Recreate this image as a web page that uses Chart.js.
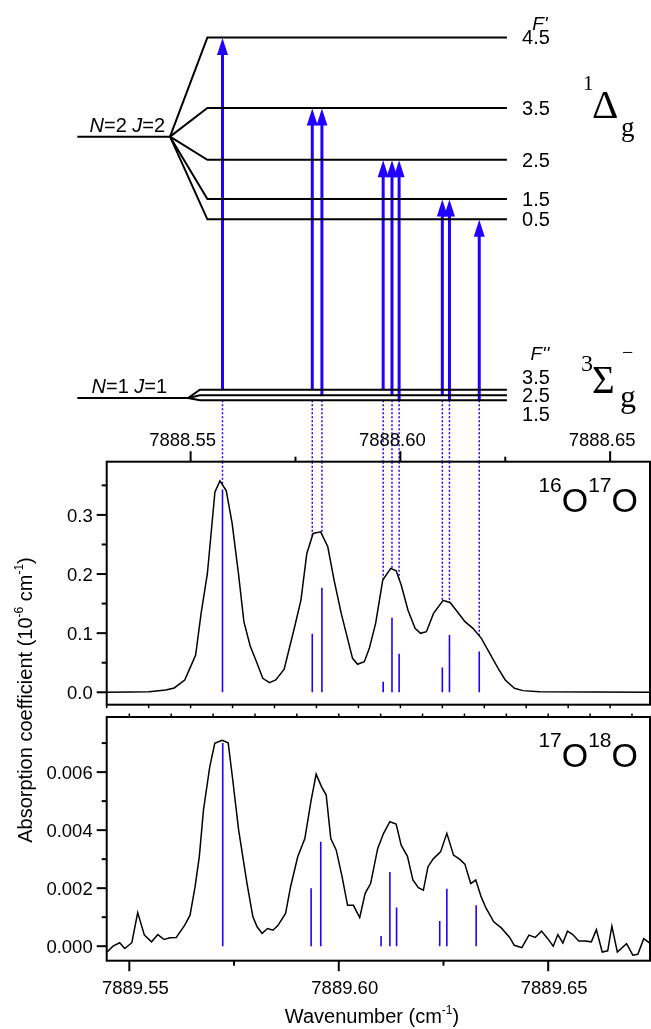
<!DOCTYPE html>
<html>
<head>
  <meta charset="utf-8">
  <title>O2 a-X hyperfine structure</title>
  <script src="https://cdn.jsdelivr.net/npm/chart.js"></script>
  <style>
    body { margin: 0; background: #fff; }
    #wrap { position: relative; width: 651px; height: 1029px; }
    #wrap canvas { position: absolute; left: 0; top: 0; }
  </style>
</head>
<body>
  <div id="wrap">
    <canvas id="levels" width="651" height="1029"></canvas>
    <canvas id="panel1617" width="651" height="1029"></canvas>
    <canvas id="panel1718" width="651" height="1029"></canvas>
  </div>

  <script>
    // ---- level scheme (schematic energies, arb. units) ----
    const upperF = [4.5, 3.5, 2.5, 1.5, 0.5];
    const upperE = [91.9, 76.6, 65.4, 56.9, 52.5];
    const upperParentE = 70.4;
    const lowerF = [3.5, 2.5, 1.5];
    const lowerE = [15.6, 14.4, 13.3];
    const lowerParentE = 13.8;

    // transitions F'' -> F'
    const transUpper = [4.5, 3.5, 3.5, 2.5, 2.5, 2.5, 1.5, 1.5, 0.5];
    const transLower = [3.5, 3.5, 2.5, 3.5, 2.5, 1.5, 2.5, 1.5, 1.5];

    // ---- 16O17O ----
    const sticks1617Wn = [7888.5576, 7888.5790, 7888.5813, 7888.5959, 7888.5980, 7888.5997, 7888.6100, 7888.6117, 7888.6188];
    const sticks1617S = [0.343, 0.099, 0.177, 0.018, 0.126, 0.065, 0.042, 0.097, 0.069];
    const spec1617Wn = [7888.5300, 7888.5401, 7888.5441, 7888.5461, 7888.5486, 7888.5500, 7888.5512, 7888.5525,
      7888.5540, 7888.5558, 7888.5570, 7888.5585, 7888.5599, 7888.5614, 7888.5627, 7888.5642, 7888.5657, 7888.5672,
      7888.5688, 7888.5703, 7888.5723, 7888.5748, 7888.5763, 7888.5777, 7888.5792, 7888.5810, 7888.5827, 7888.5842,
      7888.5859, 7888.5871, 7888.5886, 7888.5898, 7888.5914, 7888.5926, 7888.5941, 7888.5958, 7888.5977, 7888.5990,
      7888.6002, 7888.6018, 7888.6035, 7888.6048, 7888.6062, 7888.6079, 7888.6102, 7888.6119, 7888.6139, 7888.6154,
      7888.6173, 7888.6193, 7888.6213, 7888.6233, 7888.6250, 7888.6272, 7888.6292, 7888.6332, 7888.6597];
    const spec1617A = [0.0000, 0.0011, 0.0039, 0.0073, 0.0208, 0.0434, 0.0631, 0.1334,
      0.2010, 0.3390, 0.3575, 0.3407, 0.2855, 0.2010, 0.1194, 0.0783, 0.0518, 0.0236,
      0.0163, 0.0208, 0.0389, 0.1109, 0.1560, 0.2348, 0.2686, 0.2714, 0.2461, 0.1898,
      0.1334, 0.0997, 0.0574, 0.0473, 0.0518, 0.0743, 0.1166, 0.1898, 0.2095, 0.2055,
      0.1813, 0.1391, 0.1081, 0.0997, 0.1025, 0.1334, 0.1554, 0.1515, 0.1334, 0.1194,
      0.1081, 0.0912, 0.0659, 0.0405, 0.0208, 0.0068, 0.0028, 0.0011, 0.0000];

    // ---- 17O18O ----
    const sticks1718Wn = [7889.5723, 7889.5934, 7889.5957, 7889.6101, 7889.6122, 7889.6138, 7889.6241, 7889.6258, 7889.6328];
    const sticks1718S = [0.0070, 0.0020, 0.0036, 0.00035, 0.00256, 0.00133, 0.00087, 0.00198, 0.00141];
    const spec1718Wn = [7889.5447, 7889.5461, 7889.5477, 7889.5489, 7889.5506, 7889.5520, 7889.5536, 7889.5553,
      7889.5568, 7889.5583, 7889.5597, 7889.5612, 7889.5632, 7889.5645, 7889.5657, 7889.5667, 7889.5677, 7889.5692,
      7889.5704, 7889.5721, 7889.5736, 7889.5746, 7889.5761, 7889.5781, 7889.5795, 7889.5805, 7889.5817, 7889.5830,
      7889.5843, 7889.5855, 7889.5873, 7889.5885, 7889.5902, 7889.5919, 7889.5934, 7889.5946, 7889.5959, 7889.5970,
      7889.5981, 7889.5994, 7889.6008, 7889.6021, 7889.6035, 7889.6050, 7889.6063, 7889.6076, 7889.6093, 7889.6107,
      7889.6122, 7889.6137, 7889.6149, 7889.6164, 7889.6177, 7889.6190, 7889.6202, 7889.6213, 7889.6226, 7889.6243,
      7889.6258, 7889.6274, 7889.6289, 7889.6301, 7889.6315, 7889.6327, 7889.6340, 7889.6352, 7889.6370, 7889.6388,
      7889.6408, 7889.6419, 7889.6437, 7889.6454, 7889.6469, 7889.6484, 7889.6499, 7889.6512, 7889.6523, 7889.6535,
      7889.6546, 7889.6558, 7889.6573, 7889.6588, 7889.6603, 7889.6615, 7889.6629, 7889.6642, 7889.6652, 7889.6665,
      7889.6687, 7889.6702, 7889.6714, 7889.6728, 7889.6744];
    const spec1718A = [-0.00020, 0.00000, 0.00012, -0.00008, 0.00012, 0.00116, 0.00038, 0.00015,
      0.00040, 0.00023, 0.00029, 0.00030, 0.00072, 0.00107, 0.00205, 0.00308, 0.00469, 0.00618,
      0.00699, 0.00710, 0.00701, 0.00584, 0.00400, 0.00216, 0.00101, 0.00067, 0.00044, 0.00061,
      0.00055, 0.00072, 0.00113, 0.00205, 0.00308, 0.00371, 0.00503, 0.00593, 0.00549, 0.00521,
      0.00371, 0.00331, 0.00239, 0.00141, 0.00141, 0.00099, 0.00182, 0.00216, 0.00337, 0.00389,
      0.00429, 0.00421, 0.00348, 0.00310, 0.00228, 0.00202, 0.00193, 0.00274, 0.00302, 0.00325,
      0.00389, 0.00314, 0.00299, 0.00283, 0.00216, 0.00228, 0.00170, 0.00130, 0.00084, 0.00063,
      0.00030, 0.00003, -0.00005, 0.00038, 0.00030, 0.00052, 0.00026, 0.00000, 0.00040, 0.00011,
      0.00052, 0.00041, 0.00018, 0.00018, 0.00015, 0.00057, -0.00020, -0.00016, 0.00069, -0.00020,
      0.00009, -0.00031, -0.00028, 0.00026, 0.00009];

    // ---- ticks ----
    const xTicks1617 = [7888.55, 7888.60, 7888.65];
    const xTicks1718 = [7889.55, 7889.60, 7889.65];
    const yTicks1617 = [0.0, 0.1, 0.2, 0.3];
    const yTicks1718 = [0.000, 0.002, 0.004, 0.006];

    // ---- layout ----
    const W = 651, H = 1029;
    const BLUE = '#2000ff';
    const SANS = '"Liberation Sans", Arial, sans-serif';
    const SERIF = '"Liberation Serif", "Times New Roman", serif';
    const box1617 = { left: 106.7, right: 650, top: 461.7, bottom: 704.7 };
    const box1718 = { left: 106.7, right: 650, top: 717, bottom: 960.7 };
    const xRange1617 = [7888.5300, 7888.6595], yRange1617 = [-0.021, 0.39];
    const xRange1718 = [7889.5446, 7889.6743], yRange1718 = [-0.0005, 0.0079];

    // horizontal extents of the level scheme (wavenumber units of the upper axis)
    const parentStartWn = 7888.5230, upJunctionWn = 7888.5451, upStartWn = 7888.5540;
    const lowJunctionWn = 7888.5494, lowStartWn = 7888.5522, levelEndWn = 7888.6254;
    const headE = 2;

    function seg(list) {
      const pts = [];
      list.forEach(s => pts.push({ x: s[0], y: s[1] }, { x: s[2], y: s[3] }, { x: s[2], y: null }));
      return pts;
    }
    function zip(xs, ys) { return xs.map((x, i) => ({ x: x, y: ys[i] })); }
    function curveAt(xs, ys, x) {
      for (let i = 1; i < xs.length; i++) {
        if (x <= xs[i]) return ys[i - 1] + (ys[i] - ys[i - 1]) * (x - xs[i - 1]) / (xs[i] - xs[i - 1]);
      }
      return ys[ys.length - 1];
    }
    function stepValues(min, max, step, skip) {
      const out = [];
      for (let k = Math.ceil(min / step - 1e-9); k * step <= max + 1e-12; k++) {
        const v = k * step;
        if (!skip.some(m => Math.abs(m - v) < step * 1e-3)) out.push(v);
      }
      return out;
    }
    function drawRich(ctx, parts, x, y, align) {
      let w = 0;
      parts.forEach(p => { ctx.font = p[1]; w += ctx.measureText(p[0]).width; });
      let cx = align === 'center' ? x - w / 2 : align === 'right' ? x - w : x;
      ctx.textAlign = 'left';
      ctx.textBaseline = 'alphabetic';
      parts.forEach(p => {
        ctx.font = p[1];
        ctx.fillText(p[0], cx, y - (p[2] || 0));
        cx += ctx.measureText(p[0]).width;
      });
    }

    function baseOptions(pad, xr, yr) {
      return {
        responsive: false, animation: false, devicePixelRatio: 1, events: [],
        layout: { autoPadding: false, padding: pad },
        plugins: { legend: { display: false }, tooltip: { enabled: false } },
        scales: {
          x: { type: 'linear', min: xr[0], max: xr[1], display: false },
          y: { type: 'linear', min: yr[0], max: yr[1], display: false }
        },
        elements: { point: { radius: 0, hitRadius: 0 }, line: { tension: 0 } }
      };
    }

    // ---- frame, ticks and labels of a spectrum panel ----
    function panelAxes(cfg) {
      return {
        id: 'panelAxes',
        afterDraw(chart) {
          const ctx = chart.ctx, a = chart.chartArea, xs = chart.scales.x, ys = chart.scales.y;
          const line = (x1, y1, x2, y2) => { ctx.beginPath(); ctx.moveTo(x1, y1); ctx.lineTo(x2, y2); ctx.stroke(); };
          ctx.save();
          ctx.strokeStyle = '#000';
          ctx.fillStyle = '#000';
          ctx.lineWidth = 2;
          ctx.strokeRect(a.left, a.top, a.right - a.left, a.bottom - a.top);

          ctx.font = '18.5px ' + SANS;
          ctx.textAlign = 'right';
          ctx.textBaseline = 'alphabetic';
          cfg.yMajor.forEach(v => {
            const y = ys.getPixelForValue(v);
            line(a.left - 10, y, a.left, y);
            ctx.fillText(v.toFixed(cfg.yDigits), a.left - 14, y + 6.6);
          });
          stepValues(ys.min, ys.max, cfg.yMinor, cfg.yMajor).forEach(v => {
            const y = ys.getPixelForValue(v);
            line(a.left - 5, y, a.left, y);
          });

          const top = cfg.xSide === 'top';
          const edge = top ? a.top : a.bottom, dir = top ? -1 : 1;
          ctx.textAlign = 'center';
          cfg.xMajor.forEach(v => {
            const x = xs.getPixelForValue(v);
            line(x, edge, x, edge + dir * 10.5);
            ctx.fillText(v.toFixed(2), x + cfg.labelShift, top ? edge - 15.7 : edge + 33.3);
          });
          stepValues(xs.min, xs.max, 0.025, cfg.xMajor).forEach(v => {
            const x = xs.getPixelForValue(v);
            line(x, edge, x, edge + dir * 5);
          });
          const inner = top ? a.bottom : a.top;
          ctx.lineWidth = 1.5;
          stepValues(xs.min, xs.max, 0.01, []).forEach(v => {
            const x = xs.getPixelForValue(v);
            line(x, inner, x, inner - dir * 3.5);
          });

          drawRich(ctx, [
            [cfg.iso[0], '21px ' + SANS, 20], ['O', '34px ' + SANS],
            [cfg.iso[1], '21px ' + SANS, 20], ['O', '34px ' + SANS]
          ], a.right - 12, a.top + 50, 'right');

          if (cfg.titles) {
            drawRich(ctx, [['Wavenumber (cm', '20px ' + SANS], ['-1', '12px ' + SANS, 9], [')', '20px ' + SANS]],
              372, 1023, 'center');
            ctx.translate(32, 700);
            ctx.rotate(-Math.PI / 2);
            drawRich(ctx, [
              ['Absorption coefficient (10', '20px ' + SANS], ['-6', '12px ' + SANS, 9],
              [' cm', '20px ' + SANS], ['-1', '12px ' + SANS, 9], [')', '20px ' + SANS]
            ], 0, 0, 'center');
          }
          ctx.restore();
        }
      };
    }

    // ---- level scheme ----
    const pxPerWn = (box1617.right - box1617.left) / (xRange1617[1] - xRange1617[0]);
    const xRangeLevels = [xRange1617[0] - box1617.left / pxPerWn, xRange1617[1] + (W - box1617.right) / pxPerWn];

    const levelSets = [];
    levelSets.push({ data: seg([[parentStartWn, upperParentE, upJunctionWn, upperParentE]]) });
    upperE.forEach(e => levelSets.push({ data: [{ x: upJunctionWn, y: upperParentE }, { x: upStartWn, y: e }, { x: levelEndWn, y: e }] }));
    levelSets.push({ data: seg([[parentStartWn, lowerParentE, lowJunctionWn, lowerParentE]]) });
    lowerE.forEach(e => levelSets.push({ data: [{ x: lowJunctionWn, y: lowerParentE }, { x: lowStartWn, y: e }, { x: levelEndWn, y: e }] }));
    levelSets.forEach(d => { d.borderColor = '#000'; d.borderWidth = 2; d.order = 0; });

    const shafts = seg(sticks1617Wn.map((w, i) => [w, lowerE[lowerF.indexOf(transLower[i])],
      w, upperE[upperF.indexOf(transUpper[i])] - headE]));
    const guidesUpper = seg(sticks1617Wn.map(w => [w, Math.min(...lowerE), w, 0]));

    const levelText = {
      id: 'levelText',
      afterDatasetsDraw(chart) {
        const ctx = chart.ctx, xs = chart.scales.x, ys = chart.scales.y;
        const xEnd = xs.getPixelForValue(levelEndWn);
        ctx.save();
        ctx.fillStyle = BLUE;
        sticks1617Wn.forEach((w, i) => {
          const px = xs.getPixelForValue(w);
          const py = ys.getPixelForValue(upperE[upperF.indexOf(transUpper[i])]) + 0.5;
          ctx.beginPath();
          ctx.moveTo(px, py);
          ctx.lineTo(px - 5.5, py + 17);
          ctx.lineTo(px + 5.5, py + 17);
          ctx.closePath();
          ctx.fill();
        });

        ctx.fillStyle = '#000';
        ctx.font = '20px ' + SANS;
        ctx.textAlign = 'center';
        ctx.textBaseline = 'alphabetic';
        upperF.forEach((f, i) => ctx.fillText(f.toFixed(1), xEnd + 29, ys.getPixelForValue(upperE[i]) + 7));
        const mid = ys.getPixelForValue(lowerE[1]);
        lowerF.forEach((f, i) => ctx.fillText(f.toFixed(1), xEnd + 29, mid + (i - 1) * 18.3 + 7));
        ctx.font = 'italic 19px ' + SANS;
        ctx.fillText("F'", xEnd + 33, ys.getPixelForValue(upperE[0]) - 7.3);
        ctx.fillText("F''", xEnd + 33, mid - 35.3);

        const xp = xs.getPixelForValue(parentStartWn);
        const yu = ys.getPixelForValue(upperParentE), yl = ys.getPixelForValue(lowerParentE);
        const it = 'italic 20px ' + SANS, rm = '20px ' + SANS;
        drawRich(ctx, [['N', it], ['=2 ', rm], ['J', it], ['=2', rm]], xp + 50, yu - 5, 'center');
        drawRich(ctx, [['N', it], ['=1 ', rm], ['J', it], ['=1', rm]], xp + 52, yl - 5, 'center');

        ctx.textAlign = 'left';
        ctx.font = '21px ' + SERIF; ctx.fillText('1', xEnd + 76, yu - 46.7);
        ctx.font = '41px ' + SERIF; ctx.fillText('\u0394', xEnd + 85, yu - 18.5);
        ctx.font = '27px ' + SERIF; ctx.fillText('g', xEnd + 114, yu - 0.5);
        ctx.font = '24px ' + SERIF; ctx.fillText('3', xEnd + 74, yl - 26.6);
        ctx.font = '39px ' + SERIF; ctx.fillText('\u03A3', xEnd + 85, yl - 5);
        ctx.font = '20px ' + SERIF; ctx.fillText('\u2212', xEnd + 115, yl - 38.5);
        ctx.font = '32px ' + SERIF; ctx.fillText('g', xEnd + 113, yl + 9.2);
        ctx.restore();
      }
    };

    new Chart(document.getElementById('levels'), {
      type: 'line',
      data: {
        datasets: levelSets.concat([
          { data: shafts, borderColor: BLUE, borderWidth: 3, order: 1 },
          { data: guidesUpper, borderColor: BLUE, borderWidth: 1.5, borderDash: [2, 2], order: 2 }
        ])
      },
      options: baseOptions({ left: 0, right: 0, top: 0, bottom: H - box1617.top }, xRangeLevels, [0, 100]),
      plugins: [levelText]
    });

    // ---- 16O17O panel ----
    const guides1617 = seg(sticks1617Wn.map(w => [w, yRange1617[1], w, curveAt(spec1617Wn, spec1617A, w)]));
    new Chart(document.getElementById('panel1617'), {
      type: 'line',
      data: {
        datasets: [
          { data: zip(spec1617Wn, spec1617A), borderColor: '#000', borderWidth: 1.5, order: 0 },
          { data: seg(sticks1617Wn.map((w, i) => [w, 0, w, sticks1617S[i]])), borderColor: BLUE, borderWidth: 1.6, order: 1 },
          { data: guides1617, borderColor: BLUE, borderWidth: 1.5, borderDash: [2, 2], order: 2 }
        ]
      },
      options: baseOptions({ left: box1617.left, right: W - box1617.right, top: box1617.top, bottom: H - box1617.bottom },
        xRange1617, yRange1617),
      plugins: [panelAxes({ yMajor: yTicks1617, yDigits: 1, yMinor: 0.05, xMajor: xTicks1617, xSide: 'top',
        labelShift: -8, iso: ['16', '17'] })]
    });

    // ---- 17O18O panel ----
    new Chart(document.getElementById('panel1718'), {
      type: 'line',
      data: {
        datasets: [
          { data: zip(spec1718Wn, spec1718A), borderColor: '#000', borderWidth: 1.5, order: 0 },
          { data: seg(sticks1718Wn.map((w, i) => [w, 0, w, sticks1718S[i]])), borderColor: BLUE, borderWidth: 1.6, order: 1 }
        ]
      },
      options: baseOptions({ left: box1718.left, right: W - box1718.right, top: box1718.top, bottom: H - box1718.bottom },
        xRange1718, yRange1718),
      plugins: [panelAxes({ yMajor: yTicks1718, yDigits: 3, yMinor: 0.001, xMajor: xTicks1718, xSide: 'bottom',
        labelShift: 6, iso: ['17', '18'], titles: true })]
    });
  </script>
</body>
</html>
